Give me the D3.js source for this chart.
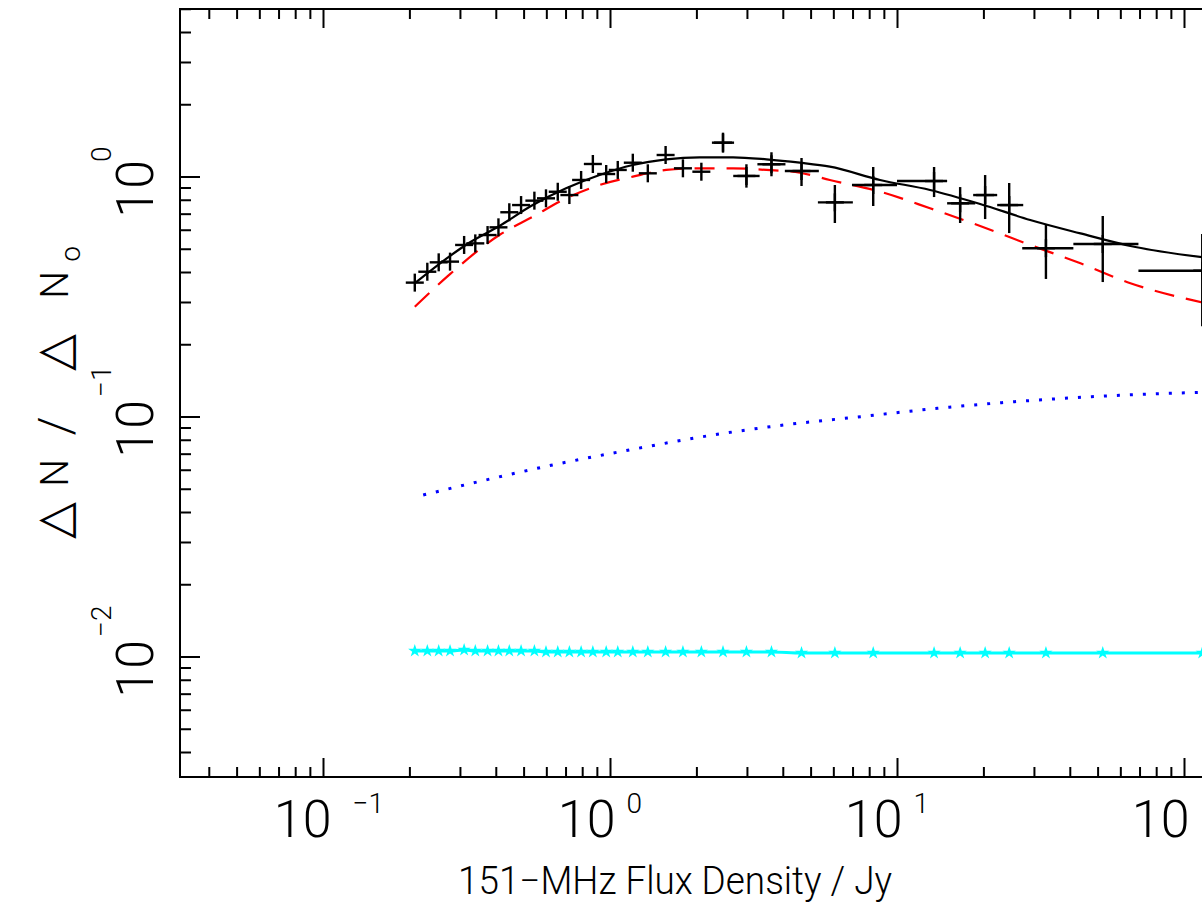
<!DOCTYPE html>
<html><head><meta charset="utf-8">
<script src="https://cdn.jsdelivr.net/npm/d3@7"></script>
<style>
body{margin:0;background:#fff}
svg{display:block}
text{font-family:Roboto,"DejaVu Sans",sans-serif;font-weight:300;fill:#000}
</style>
</head><body>
<svg id="chart" width="1202" height="909"></svg>
<script>
// ---- data ----
const binFlux  = [0.208,0.230,0.252,0.276,0.309,0.338,0.373,0.407,0.444,0.488,0.543,0.596,0.655,0.719,0.790,0.868,0.966,1.060,1.196,1.349,1.556,1.788,2.073,2.466,2.976,3.638,4.63,6.05,8.23,13.41,16.53,20.20,24.50,32.9,51.9,115.3];
const binRatio = [0.363,0.403,0.441,0.444,0.521,0.529,0.573,0.617,0.713,0.764,0.797,0.815,0.868,0.841,0.972,1.133,1.029,1.070,1.147,1.036,1.235,1.087,1.052,1.390,1.010,1.130,1.059,0.784,0.926,0.962,0.777,0.841,0.764,0.505,0.526,0.407];
const fluxLo   = [null,null,null,null,null,null,null,null,null,null,null,null,null,null,null,null,null,null,null,null,null,null,null,2.256,2.677,3.25,4.05,5.28,6.94,9.96,14.89,18.35,22.25,27.2,41.0,69.1];
const fluxHi   = [null,null,null,null,null,null,null,null,null,null,null,null,null,null,null,null,null,null,null,null,null,null,null,2.695,3.308,4.07,5.32,6.99,9.96,14.89,18.65,22.25,27.42,41.0,69.1,192];
const ratioLo  = [null,null,null,null,null,null,null,null,null,null,null,null,null,null,null,null,null,null,null,null,null,null,null,1.263,0.903,1.007,0.917,0.643,0.757,0.825,0.643,0.668,0.584,0.376,0.365,0.239];
const ratioHi  = [null,null,null,null,null,null,null,null,null,null,null,null,null,null,null,null,null,null,null,null,null,null,null,1.530,1.130,1.268,1.200,0.926,1.101,1.101,0.908,1.019,0.944,0.631,0.688,0.579];

// model curves
const modelFlux   = [0.208,0.274,0.313,0.410,0.536,0.700,0.916,1.196,1.564,2.045,2.673,3.495,4.568,5.81,8.69,12.98,19.41,29.0,43.4,64.8,115.3];
const totalModel  = [0.361,0.466,0.521,0.625,0.764,0.897,1.019,1.122,1.185,1.208,1.208,1.185,1.147,1.104,0.972,0.883,0.772,0.662,0.582,0.516,0.463];
const redFlux     = [0.208,0.274,0.410,0.536,0.700,0.916,1.196,1.564,2.045,2.673,3.495,4.568,5.81,8.69,12.98,19.41,29.0,43.4,64.8,115.3];
const redModel    = [0.288,0.391,0.573,0.683,0.815,0.926,1.003,1.070,1.087,1.087,1.070,1.042,0.972,0.869,0.741,0.625,0.521,0.437,0.361,0.300];
const blueFlux    = [0.2225,0.3387,0.6285,1.165,2.161,4.01,7.44,13.79,25.59,47.47,88.1,115.6];
const blueModel   = [0.0473,0.0534,0.0631,0.0729,0.0833,0.0926,0.1003,0.1087,0.1158,0.1215,0.1255,0.1267];
const cyanModel   = [0.0106,0.0106,0.0106,0.0106,0.0107,0.0106,0.0106,0.0106,0.0106,0.0106,0.0106,0.0105,0.0105,0.0105,0.0105,0.0105,0.0105,0.0105,0.0105,0.0105,0.0105,0.0105,0.0105,0.0105,0.0105,0.0105,0.0104,0.0104,0.0104,0.0104,0.0104,0.0104,0.0104,0.0104,0.0104,0.0104];

const xMajor = [0.1, 1, 10, 100];
const xExp   = ["\u22121", "0", "1", "2"];
const yMajor = [0.01, 0.1, 1];
const yExp   = ["\u22122", "\u22121", "0"];
const xTitle = "151\u2212MHz Flux Density / Jy";

// ---- scales ----
const W = 1202;
const svg = d3.select("#chart");
const x = d3.scaleLog().domain([Math.pow(10,-1.5), Math.pow(10,2.5)]).range([180, 180 + 4*287]);
const y = d3.scaleLog().domain([Math.pow(10,-2.5), Math.pow(10,0.7)]).range([777, 9]);
const X0 = x.range()[0], X1 = x.range()[1], Y0 = y.range()[0], Y1 = y.range()[1];

svg.append("rect").attr("width",W).attr("height",909).attr("fill","#fff");

// ---- frame and ticks ----
const g = svg.append("g").attr("stroke","#000").attr("stroke-width",2).attr("fill","none");
g.append("rect").attr("x",X0).attr("y",Y1).attr("width",X1-X0).attr("height",Y0-Y1);

function minorVals(scale){
  const [a,b] = scale.domain(); const out=[];
  for(let d=Math.floor(Math.log10(a)); d<=Math.ceil(Math.log10(b)); d++){
    for(let m=1;m<=9;m++){ const v=m*Math.pow(10,d); if(v>=a*1.0001 && v<=b*0.9999) out.push({v, major:m===1}); }
  }
  return out;
}
minorVals(x).forEach(t=>{
  const L = t.major?19:10, px=x(t.v);
  g.append("line").attr("x1",px).attr("x2",px).attr("y1",Y0).attr("y2",Y0-L);
  g.append("line").attr("x1",px).attr("x2",px).attr("y1",Y1).attr("y2",Y1+L);
});
minorVals(y).forEach(t=>{
  const L = t.major?20:11, py=y(t.v);
  g.append("line").attr("x1",X0).attr("x2",X0+L).attr("y1",py).attr("y2",py);
  g.append("line").attr("x1",X1).attr("x2",X1-L).attr("y1",py).attr("y2",py);
});

// ---- tick labels ----
xMajor.forEach((v,i)=>{
  const px = x(v), neg = xExp[i].startsWith("\u2212");
  svg.append("text").attr("x",px+(neg?8:5)).attr("y",837).attr("text-anchor","end").attr("font-size",52).text("10");
  const sx = px+(neg?29:16);
  if (sx < W - 12) // exponent of the last label lies beyond the visible window in the reference
    svg.append("text").attr("x",sx).attr("y",813).attr("text-anchor","start").attr("font-size",28).text(xExp[i]);
});
yMajor.forEach((v,i)=>{
  const py = y(v), neg = yExp[i].startsWith("\u2212");
  svg.append("text").attr("transform",`translate(153,${py-17}) rotate(-90)`).attr("text-anchor","end").attr("font-size",52).text("10");
  svg.append("text").attr("transform",`translate(111,${py-(neg?20:15)}) rotate(-90)`).attr("text-anchor","start").attr("font-size",28).text(yExp[i]);
});

// ---- axis titles ----
svg.append("text").attr("x",675).attr("y",894).attr("text-anchor","middle").attr("font-size",38)
  .attr("textLength",434).attr("lengthAdjust","spacingAndGlyphs").text(xTitle);
const yt = [["\u25B3",520,70,48],["N",473,68,39],["/",426,72,48],["\u25B3",352,70,48],["N",285,68,39],["o",254,80,28]];
yt.forEach(([s,cy,bx,fs])=>{
  svg.append("text").attr("transform",`translate(${bx},${cy}) rotate(-90)`).attr("text-anchor","middle").attr("font-size",fs).text(s);
});

// ---- clip ----
svg.append("clipPath").attr("id","clip").append("rect").attr("x",X0).attr("y",Y1).attr("width",X1-X0).attr("height",Y0-Y1);
const plot = svg.append("g").attr("clip-path","url(#clip)");
const line = d3.line().x(d=>x(d[0])).y(d=>y(d[1])).curve(d3.curveMonotoneX);

// blue dotted
plot.append("path").attr("d",line(d3.zip(blueFlux,blueModel))).attr("fill","none").attr("stroke","#0000ff").attr("stroke-width",3).attr("stroke-dasharray","3,10");
// cyan with stars
plot.append("path").attr("d",line(d3.zip(binFlux,cyanModel))).attr("fill","none").attr("stroke","#00ffff").attr("stroke-width",3);
plot.selectAll(".star").data(d3.zip(binFlux,cyanModel)).join("path")
  .attr("transform",d=>`translate(${x(d[0])},${y(d[1])})`).attr("d",d3.symbol(d3.symbolStar,55)).attr("fill","#00ffff");
// red dashed
plot.append("path").attr("d",line(d3.zip(redFlux,redModel))).attr("fill","none").attr("stroke","#ff0000").attr("stroke-width",2.2).attr("stroke-dasharray","20,12");
// black solid
plot.append("path").attr("d",line(d3.zip(modelFlux,totalModel))).attr("fill","none").attr("stroke","#000").attr("stroke-width",2.2);

// data crosses
const pts = plot.append("g").attr("stroke","#000").attr("stroke-width",2.4);
binFlux.forEach((s,i)=>{
  const px=x(s), py=y(binRatio[i]), M=9;
  pts.append("line").attr("x1",px-M).attr("x2",px+M).attr("y1",py).attr("y2",py);
  pts.append("line").attr("x1",px).attr("x2",px).attr("y1",py-M).attr("y2",py+M);
  if(fluxLo[i]!==null){
    pts.append("line").attr("x1",x(fluxLo[i])).attr("x2",x(fluxHi[i])).attr("y1",py).attr("y2",py);
    pts.append("line").attr("x1",px).attr("x2",px).attr("y1",y(ratioLo[i])).attr("y2",y(ratioHi[i]));
  }
});
</script>
</body></html>
